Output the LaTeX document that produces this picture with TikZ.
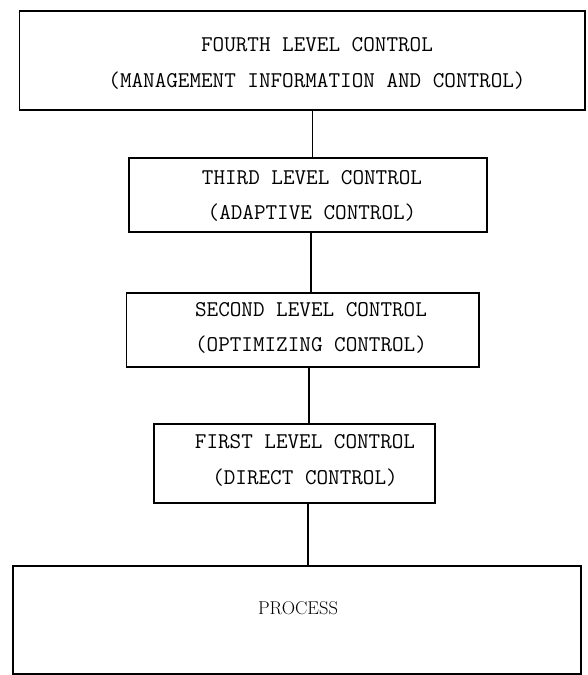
\documentclass[tikz,border=0pt]{standalone}
\usepackage{fontspec}
\usetikzlibrary{positioning}
\tikzset{
	levelbox/.style={draw, line width=1.6pt, inner sep=0pt},
	leveltext/.style={font=\ttfamily\addfontfeatures{FakeBold=0.9}\fontsize{22.5}{35.5}\selectfont, align=center, inner sep=0pt},
	plainlabel/.style={font=\addfontfeatures{FakeBold=0.6}\fontsize{18.5}{20}\selectfont, inner sep=0pt},
	link/.style={line width=1.6pt}
}

\begin{document}
\begin{tikzpicture}[x=1pt, y=-1pt]
	\useasboundingbox (0,0) rectangle (587,675);
	% boxes
	\node[levelbox, minimum width=565.5pt, minimum height=99.2pt] (fourth) at (302.25,60.4) {};
	\node[levelbox, minimum width=358pt, minimum height=74pt] (third) at (308,195) {};
	\node[levelbox, minimum width=352.5pt, minimum height=74pt] (second) at (302.75,330) {};
	\node[levelbox, minimum width=281pt, minimum height=79pt] (first) at (294.5,463.5) {};
	\node[levelbox, minimum width=568pt, minimum height=108pt] (process) at (297,620) {};
	% texts
	\node[leveltext] (fourthtext) at (317,63.5) {FOURTH LEVEL CONTROL\\(MANAGEMENT INFORMATION AND CONTROL)};
	\node[leveltext] (thirdtext) at (312,196) {THIRD LEVEL CONTROL\\(ADAPTIVE CONTROL)};
	\node[leveltext] (secondtext) at (311,328) {SECOND LEVEL CONTROL\\(OPTIMIZING CONTROL)};
	\node[leveltext] (firsttext) at (305,460.5) {FIRST LEVEL CONTROL\\(DIRECT CONTROL)};
	\node[plainlabel] (processtext) at (298,608) {PROCESS};
	% connectors
	\draw[link] ([xshift=10.35pt]fourth.south) -- ([xshift=10.35pt]fourth.south |- third.north);
	\draw[link] ([xshift=2.7pt]third.south) -- ([xshift=2.7pt]third.south |- second.north);
	\draw[link] ([xshift=6.25pt]second.south) -- ([xshift=6.25pt]second.south |- first.north);
	\draw[link] ([xshift=13.3pt]first.south) -- ([xshift=13.3pt]first.south |- process.north);
\end{tikzpicture}
\end{document}
